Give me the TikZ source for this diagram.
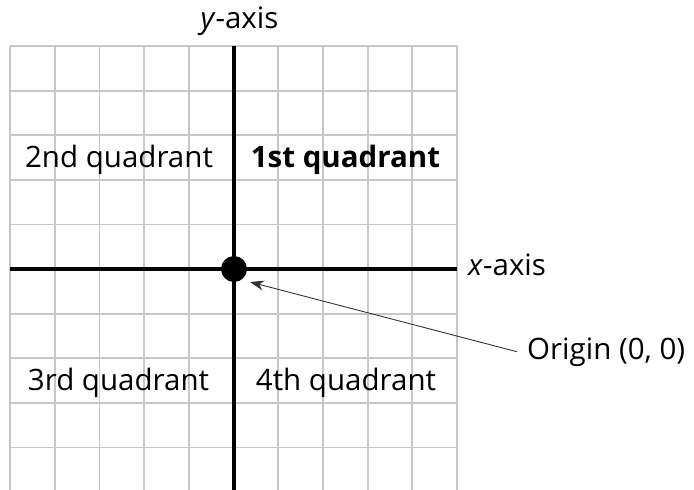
\documentclass[tikz,border=0pt]{standalone}
\usepackage{fontspec}
\setmainfont{Open Sans}
\usetikzlibrary{arrows.meta}
\begin{document}
\begin{tikzpicture}[x=1pt,y=-1pt,
  gridline/.style={draw=black!22,line width=1.8pt},
  axisline/.style={draw=black,line width=3.5pt},
  lbl/.style={font=\fontsize{29.5}{32}\selectfont,inner sep=0pt},
  pointer/.style={draw=black!80,line width=0.9pt,-{Stealth[length=14pt,width=10pt]}}]
\useasboundingbox (0,0) rectangle (694,490);
\foreach \k in {0,...,10} {
  \draw[gridline] ({10+\k*44.7},46) -- ({10+\k*44.7},490);
}
\foreach \k in {0,...,9} {
  \draw[gridline] (10,{46+\k*44.6}) -- (457,{46+\k*44.6});
}
\coordinate (ytop) at (234,46);
\coordinate (ybot) at (234,490);
\coordinate (xl) at (10,269);
\coordinate (xr) at (457,269);
\draw[axisline] (ytop) -- (ybot);
\draw[axisline] (xl) -- (xr);
\node[circle,fill=black,minimum size=26pt,inner sep=0pt] (o) at (234,269) {};
\node[lbl,anchor=base] (ylab) at (239.5,28) {\textit{y}-axis};
\node[lbl,anchor=base west] (xlab) at (468,275) {\textit{x}-axis};
\node[lbl,anchor=base west] (orig) at (527,359) {Origin (0, 0)};
\node[lbl,anchor=base] (q2) at (119,167) {2nd quadrant};
\node[lbl,anchor=base] (q1) at (345.5,167) {\textbf{1st quadrant}};
\node[lbl,anchor=base] (q3) at (118.5,390) {3rd quadrant};
\node[lbl,anchor=base] (q4) at (346,390) {4th quadrant};
\coordinate (tail) at ([xshift=-10pt,yshift=0pt]orig.west);
\coordinate (tip) at (250,282);
\draw[pointer] (tail) -- (tip);
\end{tikzpicture}
\end{document}
